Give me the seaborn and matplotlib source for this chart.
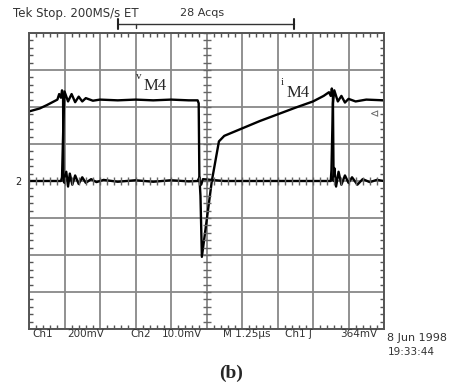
import numpy as np
import matplotlib
matplotlib.use("Agg")
import matplotlib.pyplot as plt
import seaborn as sns
from matplotlib.lines import Line2D

# ---- data (screen divisions: x 0..10, y 0..8) ----
i_x = [0.0, 0.3, 0.5, 0.7, 0.8, 0.85, 0.9, 0.93, 0.96, 0.97,
       1.0, 1.05, 1.1, 1.15, 1.22, 1.3, 1.4, 1.5, 1.6, 1.75, 1.9, 2.1,
       2.5, 3.0, 3.5, 4.0, 4.5, 4.75, 4.8, 4.83, 4.87,
       5.15, 5.35, 5.5, 6.0, 6.5, 7.0, 7.5, 8.0, 8.3, 8.45, 8.5, 8.53, 8.56, 8.58,
       8.6, 8.65, 8.72, 8.8, 8.9, 9.0, 9.1, 9.25, 9.4, 9.6, 9.8, 10.0]
i_y = [5.88, 5.96, 6.05, 6.15, 6.2, 6.35, 6.25, 6.45, 6.34, 4.0,
       3.95, 4.25, 3.85, 4.2, 3.9, 4.15, 3.92, 4.1, 3.95, 4.05, 3.97, 4.03,
       3.98, 4.02, 3.98, 4.02, 3.99, 4.0, 4.1, 3.6, 1.95,
       4.0, 5.07, 5.22, 5.42, 5.62, 5.8, 5.98, 6.15, 6.3, 6.4, 6.3, 6.5, 6.35, 4.0,
       4.35, 3.85, 4.25, 3.9, 4.15, 3.95, 4.1, 3.9, 4.05, 3.97, 4.03, 4.0]

v_x = [0.0, 0.5, 0.9, 0.93, 0.97, 1.0, 1.1, 1.2, 1.3, 1.4, 1.5, 1.6, 1.8,
       2.0, 2.5, 3.0, 3.5, 4.0, 4.5, 4.75, 4.78, 4.8, 4.85, 4.9,
       5.5, 6.5, 7.5, 8.5, 8.52, 8.56, 8.6, 8.7, 8.8, 8.9, 9.0, 9.2, 9.5, 10.0]
v_y = [4.0, 4.0, 4.0, 4.1, 5.6, 6.42, 6.15, 6.35, 6.13, 6.28, 6.15, 6.24, 6.17,
       6.2, 6.18, 6.2, 6.18, 6.2, 6.18, 6.18, 6.1, 4.0, 3.9, 4.05,
       4.0, 4.0, 4.0, 4.0, 4.3, 6.1, 6.45, 6.15, 6.3, 6.12, 6.22, 6.15, 6.2, 6.18]

top_left_text = "Tek Stop. 200MS/s ET"
top_mid_text = "28 Acqs"
bottom_texts = ["Ch1", "200mV", "Ch2", "10.0mV", "M 1.25\u00b5s", "Ch1 \u0283", "364mV"]
date_text = "8 Jun 1998"
time_text = "19:33:44"
caption = "(b)"

# ---- figure ----
sns.set_style("white")
plt.rcParams["font.family"] = ["DejaVu Sans"]
W, H = 452, 385
fig = plt.figure(figsize=(W / 100, H / 100), dpi=100)
ax = fig.add_axes([29 / W, 56 / H, 355 / W, 296 / H])

sns.lineplot(x=i_x, y=i_y, ax=ax, color="black", lw=1.7, sort=False, estimator=None)
sns.lineplot(x=v_x, y=v_y, ax=ax, color="black", lw=1.7, sort=False, estimator=None)

ax.set_xlim(0, 10)
ax.set_ylim(0, 8)
ax.set_xticks(np.arange(0, 11, 1))
ax.set_yticks(np.arange(0, 9, 1))
ax.set_xticks(np.arange(0, 10.01, 0.2), minor=True)
ax.set_yticks(np.arange(0, 8.01, 0.2), minor=True)
ax.set_xticklabels([])
ax.set_yticklabels([])
ax.tick_params(which="major", length=0)
ax.tick_params(which="minor", direction="in", length=3, width=1, color="#555555",
               top=True, right=True, bottom=True, left=True)
ax.grid(True, which="major", color="#888888", lw=1.3)
for s in ax.spines.values():
    s.set_color("#555555")
    s.set_linewidth(1.4)

# centre-line ticks
cx = np.arange(0, 10.01, 0.2)
cy = np.arange(0, 8.01, 0.2)
ax.plot(np.full_like(cy, 5.0), cy, ls="none", marker="_", ms=6, mew=1, color="#666666")
ax.plot(cx, np.full_like(cx, 4.0), ls="none", marker="|", ms=6, mew=1, color="#666666")

# trace labels
ax.text(3.0, 6.75, "v", fontsize=8, family="Liberation Serif")
ax.text(3.22, 6.45, "M4", fontsize=12, family="Liberation Serif")
ax.text(7.1, 6.6, "i", fontsize=8, family="Liberation Serif")
ax.text(7.24, 6.27, "M4", fontsize=12, family="Liberation Serif")

def ftxt(x, y, s, **kw):
    fig.text(x / W, 1 - y / H, s, va="center", ha="left", **kw)

tc = "#333333"
ftxt(13, 13, top_left_text, fontsize=8.5, color=tc)
ftxt(180, 13, top_mid_text, fontsize=8, color=tc)

# trigger bracket
by = 1 - 24 / H
fig.add_artist(Line2D([118 / W, 294 / W], [by, by], color="#333333", lw=1))
for bx in (118, 294):
    fig.add_artist(Line2D([bx / W, bx / W], [by - 5 / H, by + 5 / H], color="#222222", lw=1.5))
fig.add_artist(Line2D([136 / W, 136 / W], [by, by - 4 / H], color="#333333", lw=1))

# markers
ftxt(15, 182, "2", fontsize=7, color="#222222")
ftxt(370, 114, "\u22b2", fontsize=8, color="#666666")

bx_pos = [32, 67, 130, 162, 223, 285, 340]
for x, s in zip(bx_pos, bottom_texts):
    ftxt(x, 334, s, fontsize=7.5, color=tc)
ftxt(387, 338, date_text, fontsize=8, color=tc)
ftxt(388, 352, time_text, fontsize=7.5, color=tc)

fig.text(231 / W, 1 - 373 / H, caption, ha="center", va="center", fontsize=14,
         family="Liberation Serif", weight="bold")

fig.savefig("out.png", dpi=100)
